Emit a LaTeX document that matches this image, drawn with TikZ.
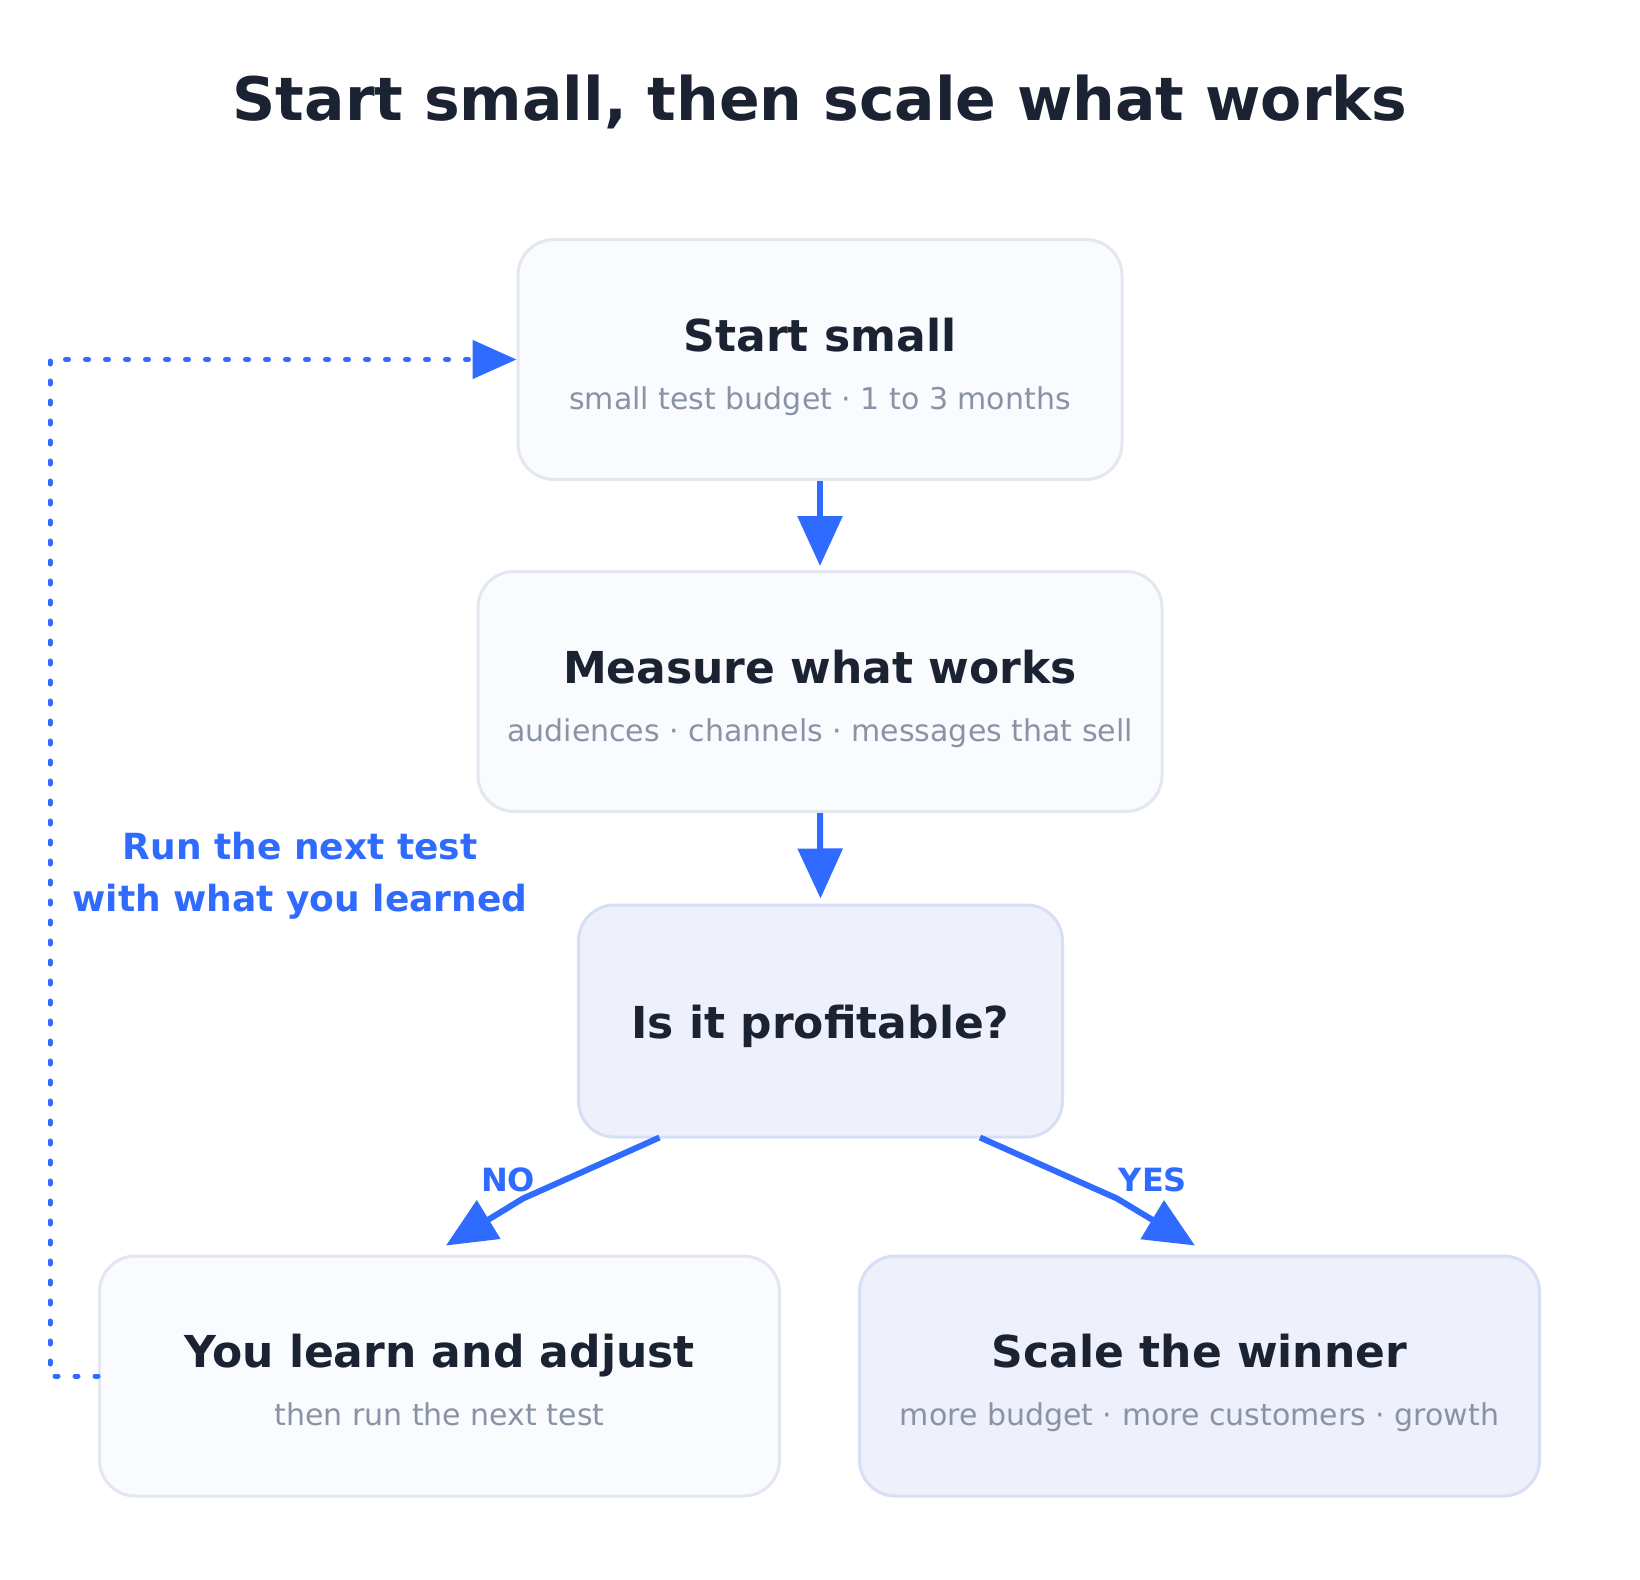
\documentclass[tikz,border=0pt]{standalone}
\usepackage{fontspec}
\setmainfont{DejaVu Sans}
\usetikzlibrary{arrows.meta,calc,positioning}
\definecolor{ink}{HTML}{1B2333}
\definecolor{muted}{HTML}{8A93A6}
\definecolor{accent}{HTML}{2F6BFF}
\definecolor{boxfill}{HTML}{F9FBFE}
\definecolor{boxline}{HTML}{E2E7F0}
\definecolor{decfill}{HTML}{EEF1FC}
\definecolor{decline}{HTML}{D6DFF6}

\begin{document}
\begin{tikzpicture}[x=0.5pt,y=-0.5pt,
  box/.style={draw=boxline,fill=boxfill,line width=1.5pt,rounded corners=18pt,minimum width=340pt,minimum height=120pt,inner sep=0pt},
  decision/.style={box,draw=decline,fill=decfill},
  bigtitle/.style={text=ink,font=\fontsize{30}{36}\selectfont\bfseries,anchor=base,inner sep=0pt},
  heading/.style={text=ink,font=\fontsize{22}{26}\selectfont\bfseries,anchor=base,inner sep=0pt},
  sub/.style={text=muted,font=\fontsize{15}{18}\selectfont,anchor=base,inner sep=0pt},
  note/.style={text=accent,font=\fontsize{18}{26}\selectfont\bfseries,align=center,inner sep=0pt},
  tag/.style={text=accent,font=\fontsize{16}{18}\selectfont\bfseries,anchor=base,inner sep=0pt},
  flow/.style={draw=accent,line width=3pt,line join=round,-{Triangle[length=25pt,width=22pt]}},
  retry/.style={draw=accent,line width=2.5pt,line cap=round,dash pattern=on 1.5pt off 8.5pt,-{Triangle[length=22pt,width=19pt]}}]
\fill[white] (0,0) rectangle (1640,1580);
\useasboundingbox (0,0) rectangle (1640,1580);

\node[bigtitle] (ttl) at (820,120) {Start small, then scale what works};

% the boxes
\node[box,minimum width=302pt] (start) at (820,359.5) {};
\node[box,minimum width=342pt] (measure) at (820,691.5) {};
\node[decision,minimum width=242pt,minimum height=116pt] (dec) at (820.5,1021) {};
\node[box] (learn) at (439.5,1376) {};
\node[decision] (win) at (1199.5,1376) {};

\node[heading] (startT) at ($(start.north)+(0,113)$) {Start small};
\node[sub] (startS) at ($(start.north)+(0,171)$) {small test budget · 1 to 3 months};
\node[heading] (measureT) at ($(measure.north)+(0,113)$) {Measure what works};
\node[sub] (measureS) at ($(measure.north)+(0,171)$) {audiences · channels · messages that sell};
\node[heading] (decT) at ($(dec.center)+(0,17)$) {Is it profitable?};
\node[heading] (learnT) at ($(learn.north)+(0,113)$) {You learn and adjust};
\node[sub] (learnS) at ($(learn.north)+(0,171)$) {then run the next test};
\node[heading] (winT) at ($(win.north)+(0,113)$) {Scale the winner};
\node[sub] (winS) at ($(win.north)+(0,171)$) {more budget · more customers · growth};

% arrows
\draw[flow] (start.south) -- ($(measure.north)+(0,-4)$);
\draw[flow] (measure.south) -- ($(dec.north)+(0,-5)$);
\draw[flow] ($(dec.south)+(-161,-1)$) -- ($(learn.north)+(83.5,-56)$) -- ($(learn.north)+(6.5,-9)$);
\draw[flow] ($(dec.south)+(159.5,-1)$) -- ($(win.north)+(-82.5,-56)$) -- ($(win.north)+(-4.5,-9)$);
\node[tag] (no) at (508,1191) {NO};
\node[tag] (yes) at (1153,1191) {YES};

% loop back
\draw[retry] (learn.west) -- ++(-48,0) |- (start.west);
\node[note] (again) at (300,876) {Run the next test\\with what you learned};
\end{tikzpicture}
\end{document}
